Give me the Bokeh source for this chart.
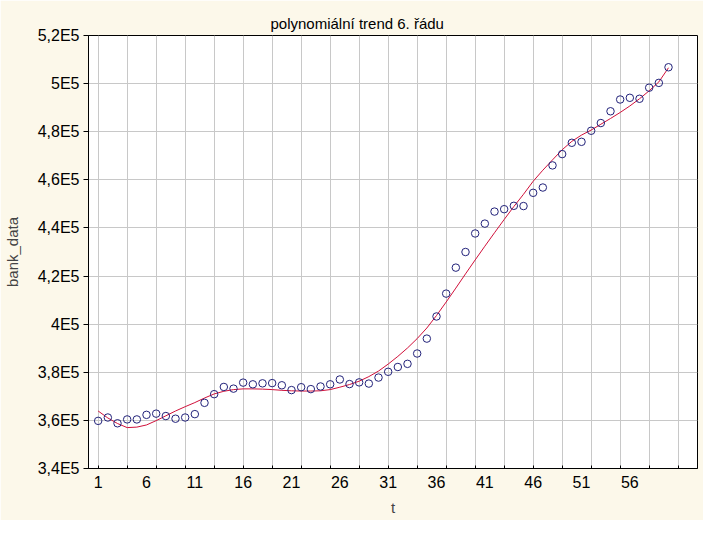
from bokeh.plotting import figure
from bokeh.models import FixedTicker, Range1d
from bokeh.embed import file_html
from bokeh.resources import INLINE

# ---- data ----
t = list(range(1, 61))
bank_data = [
    359800, 361200, 358800, 360400, 360400, 362300, 362800, 361800, 360700, 361200,
    362600, 367300, 370900, 373900, 373200, 375700, 375000, 375400, 375500, 374600,
    372600, 373800, 373000, 374100, 375000, 377000, 375100, 375800, 375300, 377800,
    380200, 382200, 383500, 387800, 394000, 403200, 412700, 423500, 430000, 437700,
    441800, 446800, 447800, 449200, 449100, 454600, 456800, 466000, 470700, 475400,
    475800, 480400, 483600, 488500, 493400, 494100, 493700, 498300, 500300, 506800,
]
trend = [
    363900, 361000, 358700, 357000, 357200, 358100, 359900, 361900, 363900, 365700,
    367400, 369300, 371000, 372100, 372800, 373100, 373100, 373000, 372800, 372500,
    372300, 372200, 372200, 372300, 372800, 373800, 374900, 376300, 378200, 380500,
    383400, 386600, 390100, 394000, 398400, 403600, 409200, 415000, 420900, 426700,
    432400, 438000, 443500, 448900, 454000, 459400, 464000, 468300, 472500, 476000,
    478600, 480700, 483100, 485500, 488000, 490700, 493700, 497000, 500700, 506600,
]
x_label_ticks = [1, 6, 11, 16, 21, 26, 31, 36, 41, 46, 51, 56]
x_grid_ticks = [1, 4, 7, 10, 13, 16, 19, 22, 25, 28, 31, 34, 37, 40, 43, 46, 49, 52, 55, 58, 61]
y_ticks = [340000, 360000, 380000, 400000, 420000, 440000, 460000, 480000, 500000, 520000]
y_tick_labels = ["3,4E5", "3,6E5", "3,8E5", "4E5", "4,2E5", "4,4E5", "4,6E5", "4,8E5", "5E5", "5,2E5"]
title_text = "polynomiální trend 6. řádu"

FONT = "Liberation Sans"
BG = "#fcf8ea"

p = figure(width=703, height=520, output_backend="svg", toolbar_location=None,
           x_range=Range1d(0, 63), y_range=Range1d(340000, 520000),
           min_border_left=80, min_border_right=6, min_border_top=35, min_border_bottom=52,
           background_fill_color="white", border_fill_color=BG,
           outline_line_color="black", outline_line_width=1)

p.title.text = title_text
p.title.align = "left"
p.title.offset = 182
p.title.text_font = FONT
p.title.text_font_size = "15px"
p.title.text_font_style = "normal"
p.title.text_color = "black"
p.title.standoff = 8

# grids
p.xgrid.ticker = FixedTicker(ticks=x_grid_ticks)
p.ygrid.ticker = FixedTicker(ticks=y_ticks)
p.grid.grid_line_color = "#c8c8c8"
p.grid.grid_line_width = 1

# bottom axis
xa = p.xaxis[0]
xa.ticker = FixedTicker(ticks=x_label_ticks, minor_ticks=x_grid_ticks)
xa.major_tick_in = 0
xa.major_tick_out = 0
xa.minor_tick_in = 3
xa.minor_tick_out = 0
xa.minor_tick_line_color = "black"
xa.axis_line_color = "black"
xa.major_label_standoff = 7
xa.major_label_text_font = FONT
xa.major_label_text_font_size = "16px"
xa.major_label_text_color = "black"
xa.axis_label = "t"
xa.axis_label_text_font = FONT
xa.axis_label_text_font_size = "15px"
xa.axis_label_text_font_style = "normal"
xa.axis_label_standoff = 8

# left axis
ya = p.yaxis[0]
ya.ticker = FixedTicker(ticks=y_ticks)
ya.major_label_overrides = {v: s for v, s in zip(y_ticks, y_tick_labels)}
ya.major_tick_in = 0
ya.major_tick_out = 5
ya.major_tick_line_color = "black"
ya.axis_line_color = "black"
ya.major_label_standoff = 4
ya.major_label_text_font = FONT
ya.major_label_text_font_size = "16px"
ya.major_label_text_color = "black"
ya.axis_label = "bank_data"
ya.axis_label_text_font = FONT
ya.axis_label_text_font_size = "15px"
ya.axis_label_text_font_style = "normal"
ya.axis_label_standoff = 14

# glyphs
p.line(t, trend, line_color="#d0103a", line_width=1)
p.scatter(t, bank_data, marker="circle", size=7.5, fill_color=None,
          line_color="#22227a", line_width=1)

open("out.html", "w").write(file_html(p, INLINE))
